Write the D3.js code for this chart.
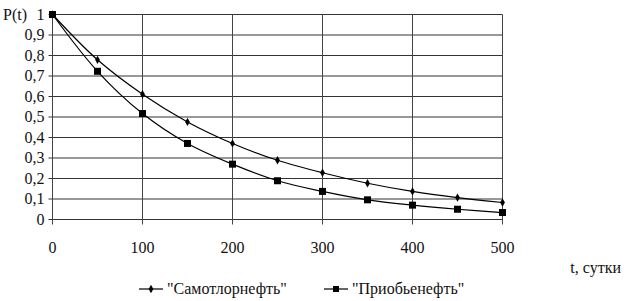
<!DOCTYPE html>
<html><head><meta charset="utf-8">
<script src="https://cdn.jsdelivr.net/npm/d3@7"></script>
<style>
body{margin:0;background:#fff}
#c{display:block}
#c text{font-family:"Times New Roman","Liberation Serif",serif !important;}
</style>
</head><body>
<svg id="c" width="624" height="301"></svg>
<script>
const days = [0,50,100,150,200,250,300,350,400,450,500];
const samotlor = [1,0.779,0.611,0.476,0.371,0.289,0.228,0.177,0.137,0.107,0.083];
const priob = [1,0.723,0.517,0.371,0.270,0.189,0.137,0.096,0.070,0.050,0.034];
const seriesNames = ['"Самотлорнефть"','"Приобьенефть"'];
const xTicks = [0,100,200,300,400,500];
const yTicks = [0,0.1,0.2,0.3,0.4,0.5,0.6,0.7,0.8,0.9,1];
const xTitle = "t, сутки";
const yTitle = "P(t)";

const svg = d3.select("#c");
const x = d3.scaleLinear().domain([0,500]).range([52.5,502.5]);
const y = d3.scaleLinear().domain([0,1]).range([219.5,14.5]);
const fmt = v => d3.format(".1~f")(v).replace(".",",");

function txt(sel){ return sel.attr("font-family","Times New Roman").attr("font-size",16).attr("fill","#111"); }

svg.selectAll(".hg").data(yTicks).join("line")
  .attr("x1",x(0)-4).attr("x2",x(500)).attr("y1",d=>y(d)).attr("y2",d=>y(d))
  .attr("stroke","#333").attr("stroke-width",1);
svg.selectAll(".vg").data(xTicks).join("line")
  .attr("x1",d=>x(d)).attr("x2",d=>x(d)).attr("y1",y(1)).attr("y2",y(0)+5)
  .attr("stroke","#444").attr("stroke-width",1);

yTicks.forEach(d=>{
  txt(svg.append("text")).attr("x",x(0)-8).attr("y",y(d)+5).attr("text-anchor","end").text(d===1?"1":fmt(d));
});
txt(svg.append("text")).attr("x",3).attr("y",y(1)+5).text(yTitle);
xTicks.forEach(d=>{
  txt(svg.append("text")).attr("x",x(d)).attr("y",253).attr("text-anchor","middle").text(d);
});
txt(svg.append("text")).attr("x",621).attr("y",273).attr("text-anchor","end").text(xTitle);

const line = d3.line().x((d,i)=>x(days[i])).y(d=>y(d)).curve(d3.curveCatmullRom.alpha(0.5));
[samotlor, priob].forEach((s,k)=>{
  svg.append("path").attr("d",line(s)).attr("fill","none").attr("stroke","#000").attr("stroke-width",1.2);
  if(k===0){
    svg.selectAll(".m0").data(s).join("path").attr("class","m0")
      .attr("d",d3.symbol(d3.symbolDiamond,20)).attr("transform",(d,i)=>`translate(${x(days[i])},${y(d)})`).attr("fill","#000");
  } else {
    svg.selectAll(".m1").data(s).join("rect").attr("class","m1")
      .attr("x",(d,i)=>x(days[i])-3.5).attr("y",d=>y(d)-3.5).attr("width",7).attr("height",7).attr("fill","#000");
  }
});

const leg = [{x0:139,name:seriesNames[0],k:0},{x0:324,name:seriesNames[1],k:1}];
const ly = 289;
leg.forEach(l=>{
  svg.append("line").attr("x1",l.x0).attr("x2",l.x0+24).attr("y1",ly).attr("y2",ly).attr("stroke","#000").attr("stroke-width",1.2);
  if(l.k===0) svg.append("path").attr("d",d3.symbol(d3.symbolDiamond,20)).attr("transform",`translate(${l.x0+12},${ly})`).attr("fill","#000");
  else svg.append("rect").attr("x",l.x0+9).attr("y",ly-3).attr("width",6).attr("height",6).attr("fill","#000");
  txt(svg.append("text")).attr("x",l.x0+28).attr("y",ly+5).text(l.name);
});
</script></body></html>
